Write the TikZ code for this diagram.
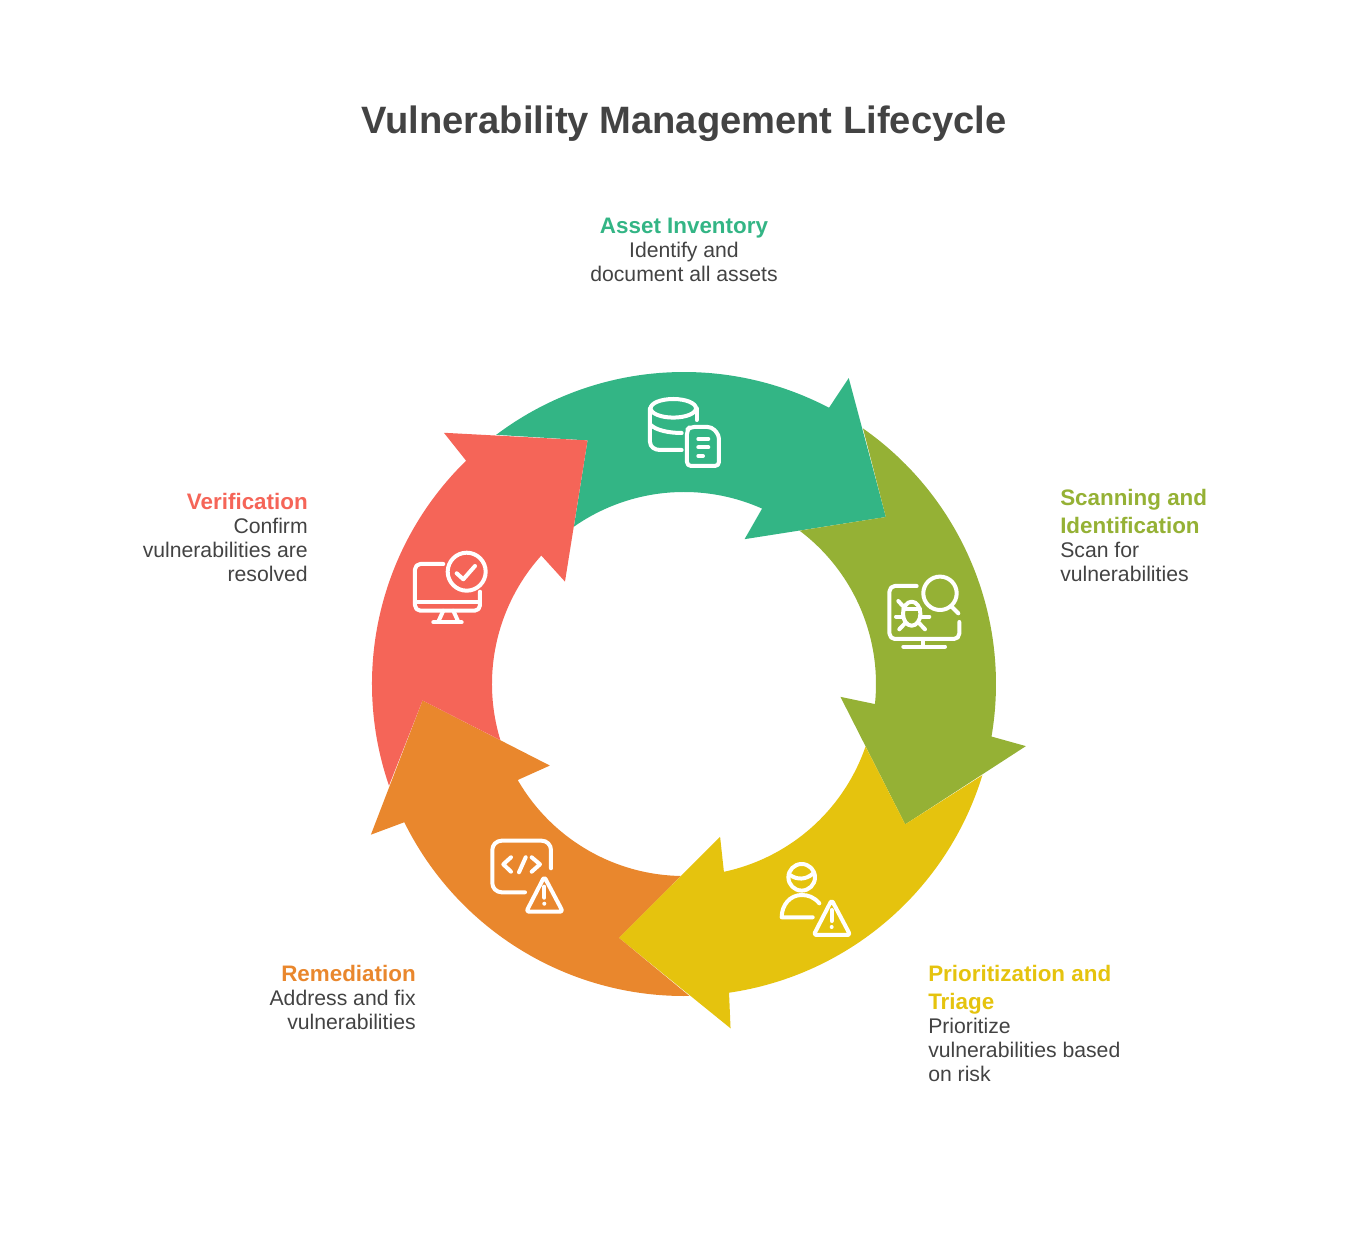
\documentclass[tikz,border=0pt]{standalone}
\usepackage{fontspec}
\setmainfont{Liberation Sans}
\usepackage{xcolor}
\definecolor{assetgreen}{HTML}{33B585}
\definecolor{scanolive}{HTML}{95B135}
\definecolor{triageyellow}{HTML}{E5C30E}
\definecolor{fixorange}{HTML}{E9872D}
\definecolor{verifyred}{HTML}{F56558}
\definecolor{inktext}{HTML}{434343}
\tikzset{
    cyclearrow/.pic = {
    \fill (127:312) arc[start angle=127, end angle=62.3, radius=312]
      -- (61.7:347.5) -- (39.6:262) -- (67.3:157) -- (66:192)
      arc[start angle=66, end angle=125, radius=192]
      -- (111.6:262) -- cycle;
    },
    iconline/.style = {draw=white, line width=3, line cap=round, line join=round, fill=none},
    labeltext/.style = {inner sep=0, text=inktext, font=\fontsize{15.9}{18}\selectfont},
    warnsign/.pic = {
    \draw[iconline, rounded corners=2] (0,0) -- (-18,-35) -- (18.5,-35) -- cycle;
    \draw[iconline] (0,-10) -- (0,-21);
    \fill[white] (0,-27) circle (2);
    }
}
\newcommand{\headfont}{\fontsize{16.8}{18}\selectfont\bfseries}
\begin{document}
\begin{tikzpicture}[x=0.75pt, y=0.75pt, line cap=round, line join=round]
\useasboundingbox (-684,-554) rectangle (684,684);
% arrows of the ring
\path (0,0) pic[assetgreen] {cyclearrow};
\path (0,0) pic[rotate=-72, scanolive] {cyclearrow};
\path (0,0) pic[rotate=-144, triageyellow] {cyclearrow};
\path (0,0) pic[rotate=-216, fixorange] {cyclearrow};
\path (0,0) pic[rotate=-288, verifyred] {cyclearrow};
% texts
\node[inner sep=0, text=inktext, font=\fontsize{28.6}{36}\selectfont\bfseries] (title) at (0,560) {Vulnerability Management Lifecycle};
\node[labeltext, align=center, anchor=north] (assetlabel) at (0,466) {{\headfont\color{assetgreen}Asset Inventory}\\ Identify and\\ document all assets};
\node[labeltext, align=left, anchor=north west] (scanlabel) at (376,195) {{\headfont\color{scanolive}Scanning and}\\[3pt] {\headfont\color{scanolive}Identification}\\ Scan for\\ vulnerabilities};
\node[labeltext, align=left, anchor=north west] (triagelabel) at (244,-281) {{\headfont\color{triageyellow}Prioritization and}\\[3pt] {\headfont\color{triageyellow}Triage}\\ Prioritize\\ vulnerabilities based\\ on risk};
\node[labeltext, align=right, anchor=north east] (fixlabel) at (-268,-281) {{\headfont\color{fixorange}Remediation}\\ Address and fix\\ vulnerabilities};
\node[labeltext, align=right, anchor=north east] (verifylabel) at (-376,191) {{\headfont\color{verifyred}Verification}\\ Confirm\\ vulnerabilities are\\ resolved};
% database and document
\begin{scope}[shift={(-54,304)}]
\draw[iconline] (43.3,-28.3) ellipse (22.7 and 9.3);
\draw[iconline] (20,-28.3) -- (20,-62) .. controls (20,-67) and (25,-70) .. (30,-70) -- (51.7,-70);
\draw[iconline] (66.7,-28.3) -- (66.7,-40);
\draw[iconline] (20.7,-45) .. controls (26,-50) and (38,-53) .. (51.7,-53);
\draw[iconline, rounded corners=3] (81.7,-47) -- (60,-47) -- (57,-50) -- (57,-86) -- (89,-86) -- (89,-55) -- cycle;
\draw[iconline] (68.3,-59) -- (78.3,-59);
\draw[iconline] (68.3,-67.3) -- (78.3,-67.3);
\draw[iconline] (68.3,-76) -- (73,-76);
\end{scope}
% screen with bug and lens
\begin{scope}[shift={(186,124)}]
\draw[iconline, rounded corners=4] (46.7,-26) -- (19.5,-26) -- (19.5,-79) -- (89.3,-79) -- (89.3,-62);
\draw[iconline] (53.3,-80) -- (53.3,-86.7);
\draw[iconline] (33.3,-86.7) -- (75,-86.7);
\draw[iconline] (70,-33.3) circle (16.7);
\draw[iconline] (81.7,-46.7) -- (88.3,-53.3);
\draw[iconline] (41.7,-53.7) ellipse (8.7 and 12);
\draw[iconline] (33.5,-49.3) -- (50,-49.3);
\draw[iconline] (26,-56.7) -- (33,-56.7);
\draw[iconline] (50.4,-56.7) -- (59.3,-56.7);
\draw[iconline] (28.3,-41) -- (33.5,-46.7);
\draw[iconline] (29.3,-69.3) -- (35,-63.3);
\draw[iconline] (55,-69.3) -- (49.3,-63.3);
\end{scope}
% person with warning
\begin{scope}[shift={(76,-166)}]
\draw[iconline] (41.7,-27.3) circle (13.3);
\draw[iconline] (30,-25) .. controls (37,-30) and (46,-30) .. (53.3,-23.3);
\draw[iconline] (59.3,-53.3) .. controls (54,-47) and (48,-45) .. (41.7,-45) .. controls (30,-45) and (21.7,-55) .. (21.7,-67.3) -- (52.7,-67.3);
\path (71.7,-50) pic {warnsign};
\end{scope}
% code window with warning
\begin{scope}[shift={(-209,-141)}]
\draw[iconline, rounded corners=7] (50,-67.3) -- (17.3,-67.3) -- (17.3,-15.7) -- (76,-15.7) -- (76,-43.3);
\draw[iconline] (36,-32.3) -- (28.3,-39.3) -- (36,-46.7);
\draw[iconline] (44,-47.3) -- (50.7,-32.3);
\draw[iconline] (56.7,-32.3) -- (65,-39.3) -- (56.7,-46.7);
\path (69.3,-51.7) pic {warnsign};
\end{scope}
% screen with check mark
\begin{scope}[shift={(-284,144)}]
\draw[iconline, rounded corners=4] (43.3,-24) -- (15,-24) -- (15,-70.7) -- (80,-70.7) -- (80,-51.7);
\draw[iconline] (15,-61.7) -- (80,-61.7);
\draw[iconline] (43.3,-70.7) -- (38.3,-81.7);
\draw[iconline] (53.3,-70.7) -- (58.3,-81.7);
\draw[iconline] (33.3,-82.3) -- (61.7,-82.3);
\draw[iconline] (66.7,-31.7) circle (19);
\draw[iconline] (56.7,-33.3) -- (63.3,-39.3) -- (75,-26);
\end{scope}
\end{tikzpicture}
\end{document}
